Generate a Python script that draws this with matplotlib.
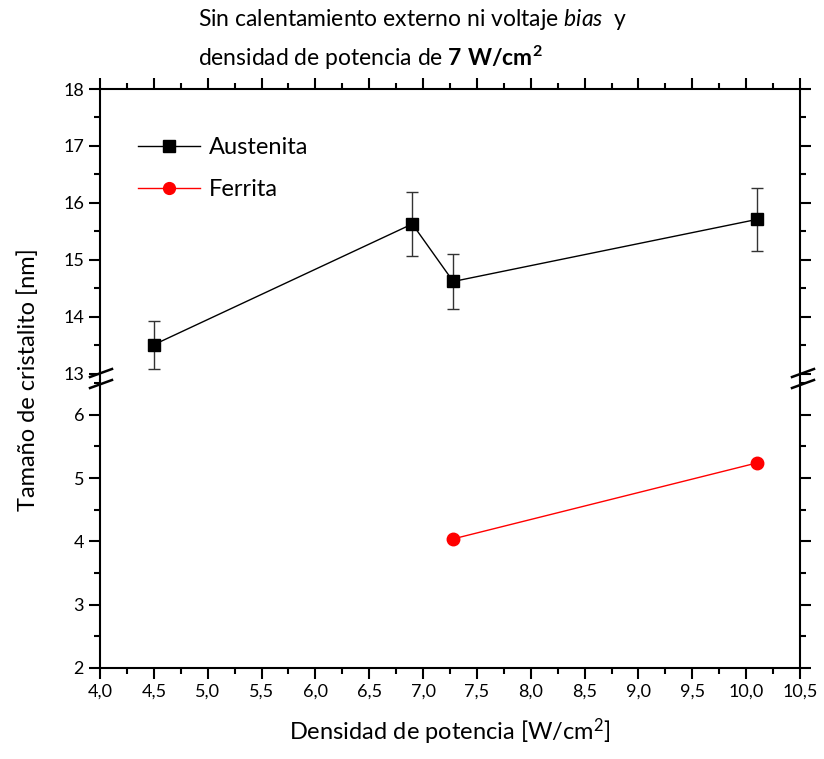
import matplotlib as mpl
mpl.use('Agg')
import matplotlib.pyplot as plt
from matplotlib.lines import Line2D
from matplotlib.ticker import MultipleLocator, FuncFormatter

plt.rcParams['font.family'] = ['Lato', 'DejaVu Sans']
plt.rcParams['mathtext.fontset'] = 'custom'
plt.rcParams['mathtext.rm'] = 'Lato'
plt.rcParams['mathtext.it'] = 'Lato:italic'
plt.rcParams['mathtext.bf'] = 'Lato:bold'

# datos
dens_aus = [4.5, 6.9, 7.28, 10.1]
tam_aus = [13.51, 15.63, 14.62, 15.71]
err_aus = [0.42, 0.56, 0.49, 0.56]

dens_fer = [7.28, 10.1]
tam_fer = [4.04, 5.24]
err_fer = [0.0, 0.03]

xticks = [4.0, 4.5, 5.0, 5.5, 6.0, 6.5, 7.0, 7.5, 8.0, 8.5, 9.0, 9.5, 10.0, 10.5]

fig = plt.figure(figsize=(8.24, 7.59), dpi=100)
L, R = 100/824, 800/824
ybrk = 1 - 380/759
ytop = 1 - 89/759
ybot = 1 - 668/759
ax1 = fig.add_axes([L, ybrk, R-L, ytop-ybrk])
ax2 = fig.add_axes([L, ybot, R-L, ybrk-ybot], sharex=ax1)

l1 = ax1.errorbar(dens_aus, tam_aus, yerr=err_aus, color='black', lw=1, marker='s',
                  ms=8.5, elinewidth=1, capsize=4, capthick=1, ecolor='#333333')
l2 = ax2.errorbar(dens_fer, tam_fer, yerr=err_fer, color='red', lw=1, marker='o',
                  ms=9, elinewidth=1, capsize=4, capthick=1)

ax1.set_ylim(12.89, 18)
ax2.set_ylim(2, 6.55)
ax1.set_xlim(4.0, 10.5)

coma = FuncFormatter(lambda v, p: ('%.1f' % v).replace('.', ','))
ax2.set_xticks(xticks)
ax2.xaxis.set_major_formatter(coma)
ax2.xaxis.set_minor_locator(MultipleLocator(0.25))
ax1.yaxis.set_major_locator(MultipleLocator(1))
ax1.yaxis.set_minor_locator(MultipleLocator(0.5))
ax2.yaxis.set_major_locator(MultipleLocator(1))
ax2.yaxis.set_minor_locator(MultipleLocator(0.5))

for ax in (ax1, ax2):
    for s in ax.spines.values():
        s.set_linewidth(1.5)
    ax.tick_params(which='major', direction='out', length=8, width=1.5, labelsize=13,
                   top=True, right=True)
    ax.tick_params(which='minor', direction='out', length=4, width=1.5, top=True, right=True)
ax1.spines['bottom'].set_visible(False)
ax2.spines['top'].set_visible(False)
ax1.tick_params(which='both', bottom=False, labelbottom=False)
ax2.tick_params(which='both', top=False)

# marcas del corte del eje
for xa, xb in ((90, 112), (792, 814)):
    for yo in (0, 11):
        fig.add_artist(Line2D([xa/824, xb/824], [1-(377+yo)/759, 1-(369+yo)/759],
                              color='black', lw=1.8))

ax2.set_xlabel('Densidad de potencia [W/cm$^2$]', fontsize=17, labelpad=12)
fig.text(0.034, 0.5, 'Tamaño de cristalito [nm]', rotation=90, fontsize=17,
         va='center', ha='center')

fig.text(198/824, 1-20/759, r'Sin calentamiento externo ni voltaje $\mathit{bias}$  y',
         fontsize=16.5, va='center', ha='left')
fig.text(198/824, 1-58/759, r'densidad de potencia de $\mathbf{7\ W/cm^2}$',
         fontsize=16.5, va='center', ha='left')

h1 = Line2D([], [], color='black', lw=1, marker='s', ms=8)
h2 = Line2D([], [], color='red', lw=1, marker='o', ms=8.5)
ax1.legend([h1, h2], ['Austenita', 'Ferrita'], loc='upper left', frameon=False,
           fontsize=17, bbox_to_anchor=(0.041, 0.868), handlelength=2.6,
           handletextpad=0.4, labelspacing=0.9, borderaxespad=0)

fig.savefig('out.png', dpi=100)
